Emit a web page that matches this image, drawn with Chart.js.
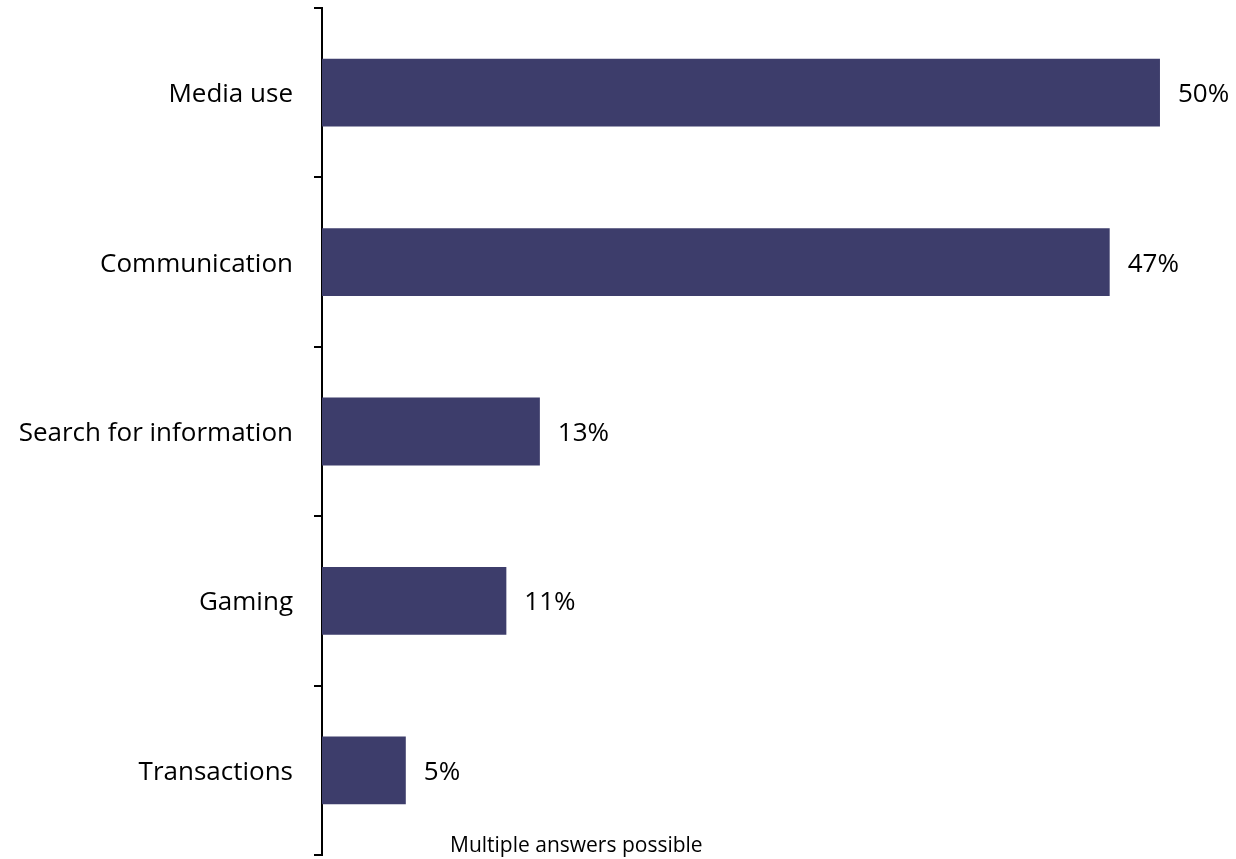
<!DOCTYPE html>
<html>
<head>
<meta charset="utf-8">
<script src="https://cdn.jsdelivr.net/npm/chart.js@4"></script>
<style>
  html, body { margin: 0; padding: 0; background: #fff; }
  #wrap { width: 1236px; height: 859px; position: relative; }
</style>
</head>
<body>
<div id="wrap"><canvas id="usageChart"></canvas></div>
<script>
// categories and shares (percent of respondents)
const categories = ["Media use", "Communication", "Search for information", "Gaming", "Transactions"];
const shares = [50, 47, 13, 11, 5];
const footnote = "Multiple answers possible";

const BAR_COLOR = "#3d3d6b";
const FONT = "'Open Sans', 'Noto Sans', sans-serif";

// value labels to the right of each bar + the footnote
const barLabels = {
  id: "barLabels",
  afterDatasetsDraw(chart) {
    const ctx = chart.ctx;
    const meta = chart.getDatasetMeta(0);
    ctx.save();
    ctx.fillStyle = "#000";
    ctx.font = "26px " + FONT;
    ctx.textAlign = "left";
    ctx.textBaseline = "middle";
    meta.data.forEach((bar, i) => {
      ctx.fillText(shares[i] + "%", bar.x + 18, bar.y + 2);
    });

    ctx.font = "21px " + FONT;
    ctx.fillText(footnote, 450, 846);
    ctx.restore();
  }
};

new Chart(document.getElementById("usageChart"), {
  type: "bar",
  data: {
    labels: categories,
    datasets: [{
      data: shares,
      backgroundColor: BAR_COLOR,
      borderWidth: 0,
      barPercentage: 0.4,
      categoryPercentage: 1
    }]
  },
  options: {
    indexAxis: "y",
    responsive: true,
    maintainAspectRatio: false,
    animation: false,
    layout: {
      padding: { left: 0, right: 9, top: 8, bottom: 4 }
    },
    scales: {
      x: {
        display: false,
        min: 0,
        max: 54
      },
      y: {
        offset: true,
        afterFit: scale => {
          scale.width = 322;
          scale.paddingTop = 0;
          scale.paddingBottom = 0;
        },
        border: { display: true, color: "#000", width: 2 },
        grid: {
          offset: true,
          drawOnChartArea: false,
          drawTicks: true,
          tickLength: 8,
          color: "#000",
          lineWidth: 2
        },
        ticks: {
          color: "#000",
          padding: 21,
          labelOffset: 2,
          font: { family: FONT, size: 26 }
        }
      }
    },
    plugins: {
      legend: { display: false },
      tooltip: { enabled: false }
    }
  },
  plugins: [barLabels]
});
</script>
</body>
</html>
